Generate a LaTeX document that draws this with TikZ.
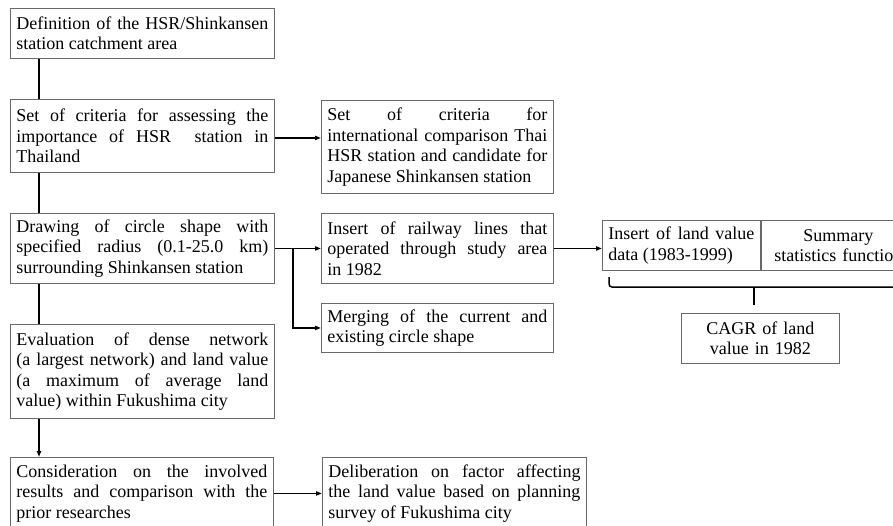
\documentclass[tikz,border=0pt]{standalone}
\usepackage{fontspec}
\setmainfont{Liberation Serif}
\usetikzlibrary{arrows.meta,calc}
\begin{document}
\begin{tikzpicture}[x=1pt,y=-1pt,
  fs/.style={font=\fontsize{18}{20.5}\selectfont},
  box/.style={draw=boxgray, line width=0.9pt, anchor=north west, inner xsep=6pt,
    inner ysep=0pt, align=justify, fs},
  cbox/.style={box, align=center},
  link/.style={line width=1.5pt, line cap=butt},
  arr/.style={link, -{Triangle[length=6pt,width=4.2pt]}}
]
\definecolor{boxgray}{RGB}{105,105,105}
\useasboundingbox (0,0) rectangle (893,525);
\hyphenpenalty=10000 \exhyphenpenalty=10000

% left column
\node[box, text width=252pt, minimum height=50pt] (def) at (10,8)
  {Definition of the HSR/Shinkansen\linebreak station catchment area};
\node[box, text width=252pt, minimum height=73pt] (crit) at (10,99)
  {Set of criteria for assessing the\linebreak importance of HSR\ \ station in\linebreak Thailand};
\node[box, text width=252pt, minimum height=70pt] (circ) at (10,213)
  {Drawing of circle shape with\linebreak specified radius (0.1-25.0 km)\linebreak surrounding Shinkansen station};
\node[box, text width=252pt, minimum height=94pt] (eval) at (10,324)
  {Evaluation of dense network\linebreak (a largest network) and land value\linebreak (a maximum of average land\linebreak value) within Fukushima city};
\node[box, text width=251pt, minimum height=72pt] (cons) at (10,457)
  {Consideration on the involved\linebreak results and comparison with the\linebreak prior researches};

% middle column
\node[box, text width=220pt, minimum height=93pt] (intl) at (321,100)
  {Set of criteria for\linebreak international comparison Thai\linebreak HSR station and candidate for\linebreak Japanese Shinkansen station};
\node[box, text width=220pt, minimum height=70pt] (rail) at (321,213)
  {Insert of railway lines that\linebreak operated through study area\linebreak in 1982};
\node[box, text width=220pt, minimum height=49pt] (merge) at (321,303)
  {Merging of the current and\linebreak existing circle shape};
\node[box, text width=252pt, minimum height=72pt] (delib) at (322,457)
  {Deliberation on factor affecting\linebreak the land value based on planning\linebreak survey of Fukushima city};

% right group
\node[box, text width=146pt, minimum height=50pt] (land) at (602,220)
  {Insert of land value\linebreak data (1983-1999)};
\node[cbox, text width=142pt, minimum height=50pt] (summ) at (land.north east)
  {Summary\\statistics function};
\node[cbox, text width=146pt, minimum height=50pt] (cagr) at (681,313)
  {CAGR of land\\value in 1982};

% connectors
\coordinate (spine) at (39,0);
\coordinate (fork) at (293,0);
\draw[link] (def.south -| spine) -- (crit.north -| spine);
\draw[link] (crit.south -| spine) -- (circ.north -| spine);
\draw[link] (circ.south -| spine) -- (eval.north -| spine);
\draw[arr] (eval.south -| spine) -- (cons.north -| spine);

\draw[arr] ($(crit.east)+(0,2)$) -- ($(crit.east -| intl.west)+(0,2)$);
\draw[arr] (circ.east) -- (circ.east -| rail.west);
\draw[arr] (circ.east -| fork) |- (merge.west);
\draw[arr] (rail.east) -- (rail.east -| land.west);
\draw[arr] (cons.east) -- (cons.east -| delib.west);

% bracket under the land value group
\coordinate (bl) at (609,277);
\coordinate (br) at (900,277);
\coordinate (bm) at (754,287);
\coordinate (btip) at (754,305);
\draw[link, rounded corners=3pt] (bl) -- (bl |- bm) -- (br |- bm);
\draw[link] (bm) -- (btip);
\end{tikzpicture}
\end{document}
